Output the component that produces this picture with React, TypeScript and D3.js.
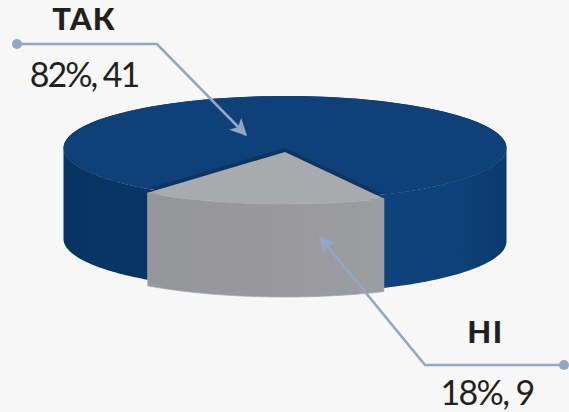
import React from "react";
import { arc, pie, line, range, scaleLinear } from "d3";

const categories = ["ТАК", "НІ"];
const values = [41, 9];
const percents = [82, 18];

const width = 569;
const height = 412;
const rx = 221.5;
const ry = 52;
const startAngle = (218.3 * Math.PI) / 180;

const slices = pie<number>()
  .sort(null)
  .startAngle(startAngle)
  .endAngle(startAngle + 2 * Math.PI)(values);

const topArc = arc<any>().innerRadius(0).outerRadius(rx);

// side wall of the 3d pie between two angles (clockwise from 12 o'clock)
const wall = (a0: number, a1: number, cx: number, cy: number, depth: number) => {
  const t = scaleLinear().domain([0, 60]).range([a0, a1]);
  const pts = range(0, 61).map((i) => [cx + rx * Math.sin(t(i)), cy - ry * Math.cos(t(i))] as [number, number]);
  const back = pts.slice().reverse().map((p) => [p[0], p[1] + depth] as [number, number]);
  return line()([...pts, ...back]) + "Z";
};

const deg = (d: number) => (d * Math.PI) / 180;

const App = () => {
  const blue = slices[0];
  const gray = slices[1];
  // gray angles run past a full turn, bring them back for the walls
  const grayStart = gray.startAngle - 2 * Math.PI;
  const grayEnd = gray.endAngle - 2 * Math.PI;
  return (
    <svg
      width={width}
      height={height}
      viewBox={`0 0 ${width} ${height}`}
      style={{ position: "absolute", left: 0, top: 0, background: "#f7f7f7" }}
    >
      <defs>
        <linearGradient id="blueSide" gradientUnits="userSpaceOnUse" x1={63} x2={507} y1={0} y2={0}>
          <stop offset="0" stopColor="#083463" />
          <stop offset="0.2" stopColor="#093565" />
          <stop offset="0.72" stopColor="#0f427c" />
          <stop offset="0.87" stopColor="#0f417a" />
          <stop offset="1" stopColor="#0b3a6d" />
        </linearGradient>
        <linearGradient id="graySide" gradientUnits="userSpaceOnUse" x1={148} x2={383} y1={0} y2={0}>
          <stop offset="0" stopColor="#95969a" />
          <stop offset="0.5" stopColor="#99999d" />
          <stop offset="1" stopColor="#9c9da1" />
        </linearGradient>
        <marker id="head" viewBox="0 0 12 12" refX="11" refY="6" markerWidth="17" markerHeight="17" markerUnits="userSpaceOnUse" orient="auto">
          <path d="M0,0L12,6L0,12L3,6Z" fill="#92a7c4" />
        </marker>
      </defs>

      {/* blue, walls run a little under the gray slice so no gap shows at the corners */}
      <path d={wall(grayEnd - deg(4), deg(270), 285, 148, 91)} fill="url(#blueSide)" />
      <path d={wall(deg(90), grayStart + deg(4), 285, 148, 93.5)} fill="url(#blueSide)" />
      {/* dark disc under the top face, shows as the thin shadow along the gray slice */}
      <path
        d={topArc({ startAngle: 0, endAngle: 2 * Math.PI }) as string}
        transform={`translate(285,148) scale(1,${ry / rx})`}
        fill="#0a3564"
      />
      <path
        d={topArc(blue) as string}
        transform={`translate(285,148) scale(1,${ry / rx})`}
        fill="#0f4078"
      />

      {/* gray */}
      <path d={wall(grayStart, grayEnd, 285, 152, 93)} fill="url(#graySide)" stroke="#a7a9ad" strokeWidth={0.8} />
      <path
        d={topArc(gray) as string}
        transform={`translate(285,152) scale(1,${ry / rx})`}
        fill="#a9aaae"
      />

      {/* leaders */}
      <g fill="none" stroke="#92a7c4" strokeWidth={2.6}>
        <polyline points="17,44 157,44 246,135" markerEnd="url(#head)" />
        <polyline points="565,365 425,365 320,237" markerEnd="url(#head)" />
      </g>
      <circle cx={17} cy={44} r={5} fill="#92a7c4" />
      <circle cx={564} cy={365} r={5} fill="#92a7c4" />

      {/* labels */}
      <g fill="#231f20" fontFamily="Lato, 'Open Sans', sans-serif" textAnchor="middle">
        <text x={84} y={30} fontSize={31} fontWeight={900} letterSpacing={1.2}>{categories[0]}</text>
        <text x={84} y={87} fontSize={34} letterSpacing={-2}>{`${percents[0]}%, ${values[0]}`}</text>
        <text x={485.5} y={343} fontSize={31} fontWeight={900} letterSpacing={1.5}>{categories[1]}</text>
        <text x={487} y={405} fontSize={34} letterSpacing={-1.6}>{`${percents[1]}%, ${values[1]}`}</text>
      </g>
    </svg>
  );
};

export default App;
